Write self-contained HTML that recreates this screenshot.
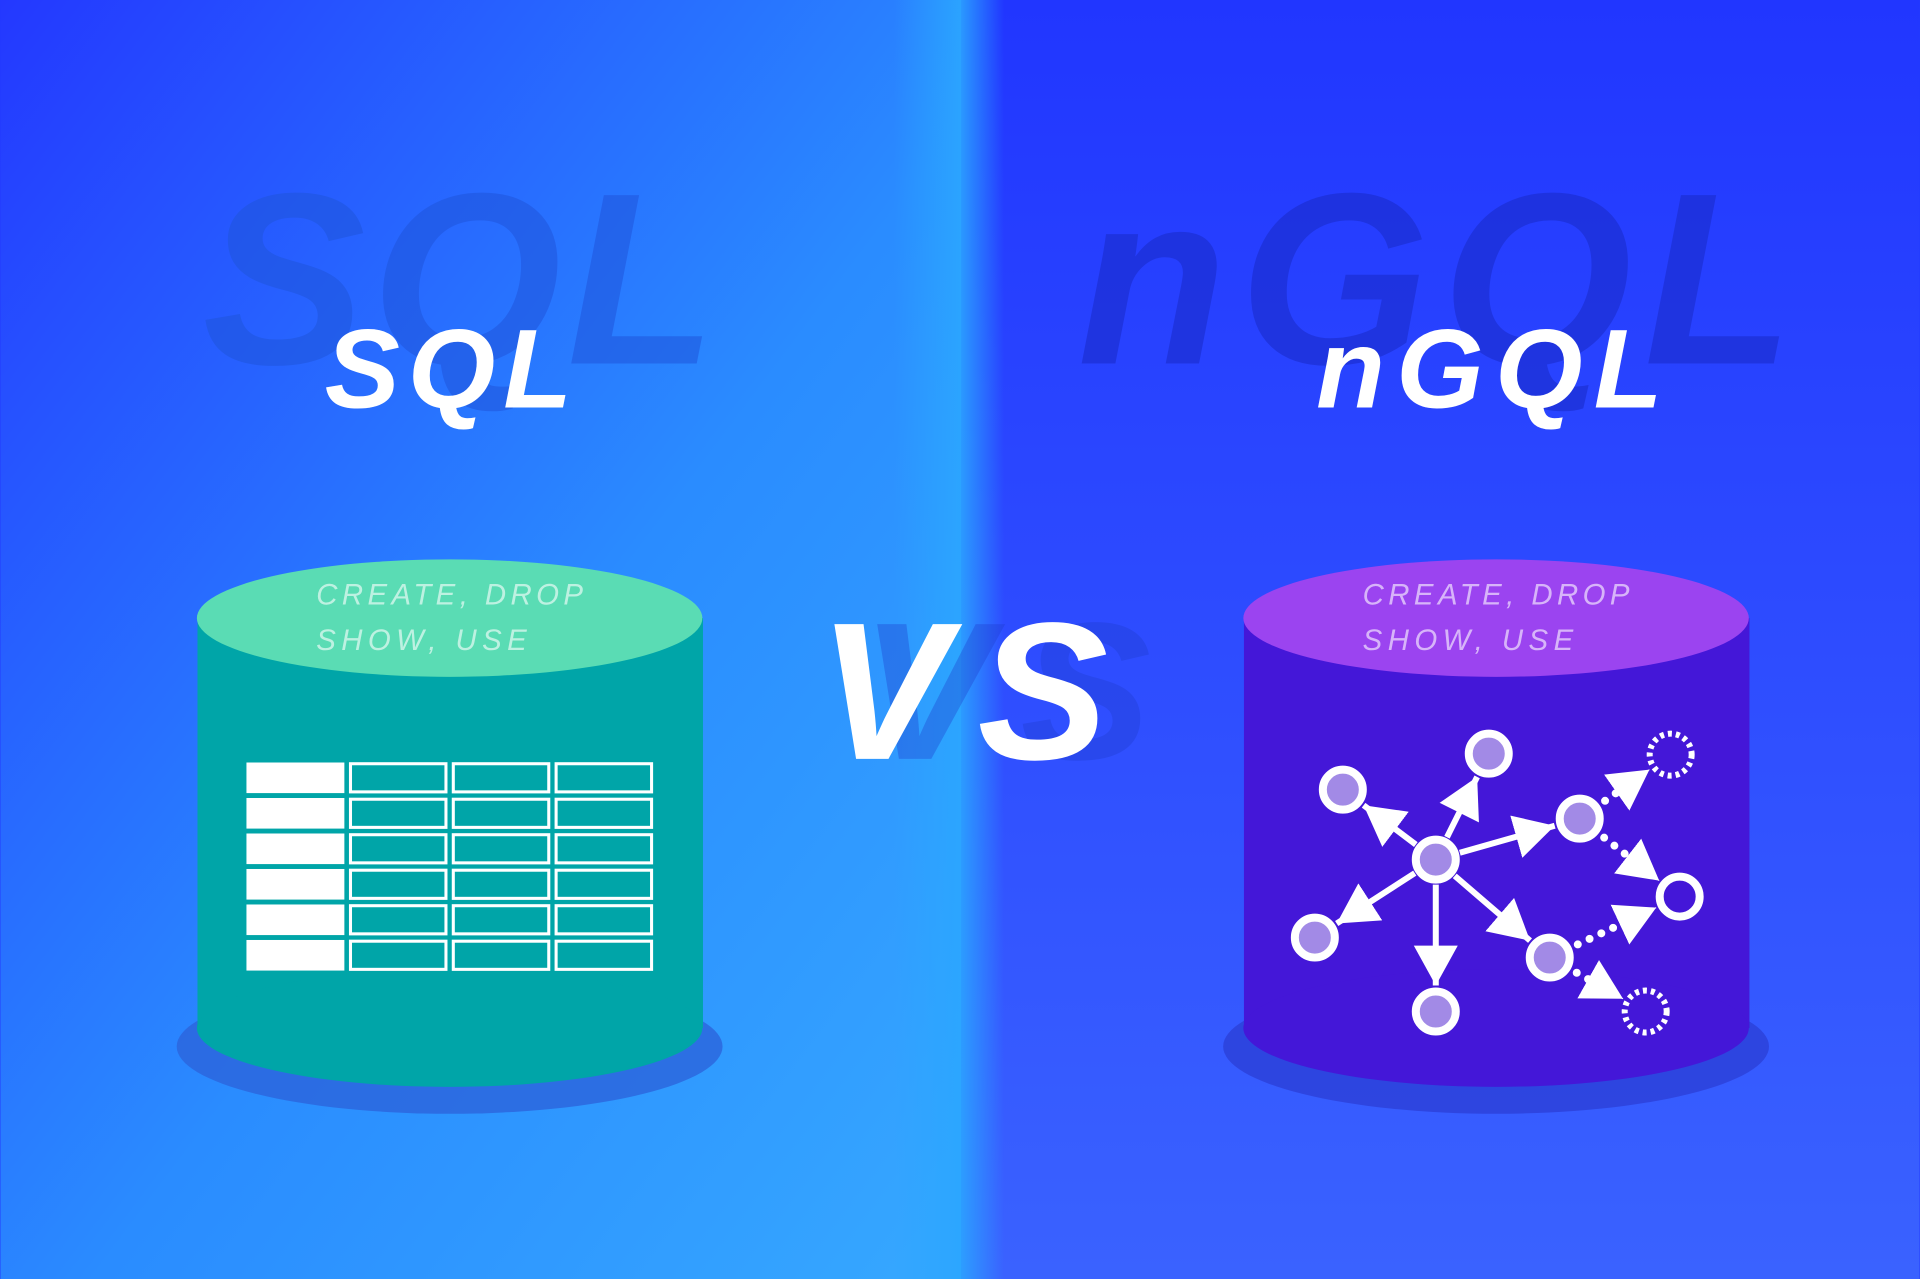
<!DOCTYPE html>
<html><head><meta charset="utf-8"><style>
html,body{margin:0;padding:0;width:1920px;height:1279px;overflow:hidden;background:#2238ff}
svg{display:block}
text{font-family:"Liberation Sans",sans-serif}
</style></head><body>
<svg id="s" width="1920" height="1279" viewBox="0 0 1568 1045" xmlns="http://www.w3.org/2000/svg">
<defs>
<linearGradient id="gl" x1="0" y1="0" x2="1" y2="1">
<stop offset="0" stop-color="#2438ff"/><stop offset="0.55" stop-color="#2a8cff"/><stop offset="1" stop-color="#36a8ff"/>
</linearGradient>
<linearGradient id="gr" x1="0" y1="0" x2="0" y2="1">
<stop offset="0" stop-color="#2136ff"/><stop offset="1" stop-color="#3a62ff"/>
</linearGradient>
<linearGradient id="gs" x1="0" y1="0" x2="1" y2="0">
<stop offset="0" stop-color="#2ba6ff" stop-opacity="0"/><stop offset="0.6" stop-color="#2ba6ff" stop-opacity="0.9"/><stop offset="1" stop-color="#2ba6ff" stop-opacity="0"/>
</linearGradient>
<marker id="ah" markerUnits="userSpaceOnUse" markerWidth="50" markerHeight="50" refX="40" refY="22" orient="auto"><path d="M0,0 L40,22 L0,44 Z" fill="#fff"/></marker>
</defs>
<rect x="0" y="0" width="785" height="1045" fill="url(#gl)"/>
<rect x="785" y="0" width="783" height="1045" fill="url(#gr)"/>
<rect x="730" y="0" width="90" height="1045" fill="url(#gs)"/>

<!-- watermarks -->
<text x="165" y="297" font-size="200" font-weight="bold" font-style="italic" fill="#1f55dc" opacity="0.55" textLength="420" lengthAdjust="spacing">SQL</text>
<text x="880" y="297" font-size="200" font-weight="bold" font-style="italic" fill="#1a2ccc" opacity="0.6" textLength="585" lengthAdjust="spacing">nGQL</text>
<text x="265" y="333" font-size="92" font-weight="bold" font-style="italic" fill="#fff" textLength="202" lengthAdjust="spacing">SQL</text>
<text x="1075" y="333" font-size="92" font-weight="bold" font-style="italic" fill="#fff" textLength="283" lengthAdjust="spacing">nGQL</text>

<!-- VS -->
<text x="703" y="620" font-size="160" font-weight="bold" font-style="italic" fill="#1e3ccc" opacity="0.35" textLength="237" lengthAdjust="spacing">VS</text>
<text x="668" y="620" font-size="160" font-weight="bold" font-style="italic" fill="#fff" textLength="237" lengthAdjust="spacing">VS</text>

<!-- left cylinder -->
<ellipse cx="367" cy="855" rx="223" ry="55" fill="#2c64dc" opacity="0.8"/>
<rect x="161" y="505" width="413" height="335" fill="#00a5a8"/>
<ellipse cx="367" cy="840" rx="206.5" ry="48" fill="#00a5a8"/>
<ellipse cx="367" cy="505" rx="206.5" ry="48" fill="#5adcb4"/>
<text x="258" y="494" font-size="24" font-style="italic" fill="#fff" opacity="0.6" textLength="218" lengthAdjust="spacing">CREATE, DROP</text>
<text x="258" y="531" font-size="24" font-style="italic" fill="#fff" opacity="0.6" textLength="172" lengthAdjust="spacing">SHOW, USE</text>
<g id="tbl" fill="none" stroke="#fff" stroke-width="2.5"></g>

<!-- right cylinder -->
<ellipse cx="1222" cy="855" rx="223" ry="55" fill="#2c40d8" opacity="0.8"/>
<rect x="1016" y="505" width="413" height="335" fill="#4417d8"/>
<ellipse cx="1222" cy="840" rx="206.5" ry="48" fill="#4417d8"/>
<ellipse cx="1222" cy="505" rx="206.5" ry="48" fill="#9b44f0"/>
<text x="1113" y="494" font-size="24" font-style="italic" fill="#fff" opacity="0.6" textLength="218" lengthAdjust="spacing">CREATE, DROP</text>
<text x="1113" y="531" font-size="24" font-style="italic" fill="#fff" opacity="0.6" textLength="172" lengthAdjust="spacing">SHOW, USE</text>
<g id="graph" transform="scale(0.81667)"></g>
</svg>
<script>
var NS="http://www.w3.org/2000/svg";
function el(p,t,a){var e=document.createElementNS(NS,t);for(var k in a)e.setAttribute(k,a[k]);p.appendChild(e);return e;}
var tb=document.getElementById("tbl");
for(var i=0;i<6;i++){var y=623+i*29;
 el(tb,"rect",{x:201,y:y,width:80,height:25,fill:"#fff",stroke:"none"});
 [286,370,454].forEach(function(x){el(tb,"rect",{x:x,y:y+1,width:78,height:23});});}
var g=document.getElementById("graph");
var N={c:[1436,860],tl:[1343,790],t:[1489,754],r1:[1580,819],ring:[1680,897],br:[1550,958],b:[1436,1012],l:[1315,938],dt:[1671,755],db:[1646,1012]};
var R=25;
function seg(a,b,s,e){var A=N[a],B=N[b],dx=B[0]-A[0],dy=B[1]-A[1],d=Math.hypot(dx,dy),ux=dx/d,uy=dy/d;
 return [A[0]+ux*s,A[1]+uy*s,B[0]-ux*e,B[1]-uy*e];}
["tl","t","r1","br","b","l"].forEach(function(k){var p=seg("c",k,R,R+1);
 el(g,"line",{x1:p[0],y1:p[1],x2:p[2],y2:p[3],stroke:"#fff","stroke-width":6,"marker-end":"url(#ah)"});});
[["r1","dt"],["r1","ring"],["br","ring"],["br","db"]].forEach(function(q){var p=seg(q[0],q[1],R+6,R+1);
 var dx=p[2]-p[0],dy=p[3]-p[1],d=Math.hypot(dx,dy);var f=(d-38)/d;
 el(g,"line",{x1:p[0],y1:p[1],x2:p[0]+dx*f,y2:p[1]+dy*f,stroke:"#fff","stroke-width":8,"stroke-linecap":"round","stroke-dasharray":"0 13"});
 el(g,"path",{d:"M"+(p[0]+dx*f-dx/d*2)+","+(p[1]+dy*f-dy/d*2)+"L"+p[2]+","+p[3],stroke:"#fff","stroke-width":1,"marker-end":"url(#ah)"});});
["c","tl","t","r1","br","b","l"].forEach(function(k){el(g,"circle",{cx:N[k][0],cy:N[k][1],r:20,fill:"#a28ae6",stroke:"#fff","stroke-width":8});});
el(g,"circle",{cx:N.ring[0],cy:N.ring[1],r:20,fill:"#4417d8",stroke:"#fff","stroke-width":8});
["dt","db"].forEach(function(k){el(g,"circle",{cx:N[k][0],cy:N[k][1],r:21,fill:"none",stroke:"#fff","stroke-width":6,"stroke-dasharray":"4 4"});});
</script>
</body></html>
